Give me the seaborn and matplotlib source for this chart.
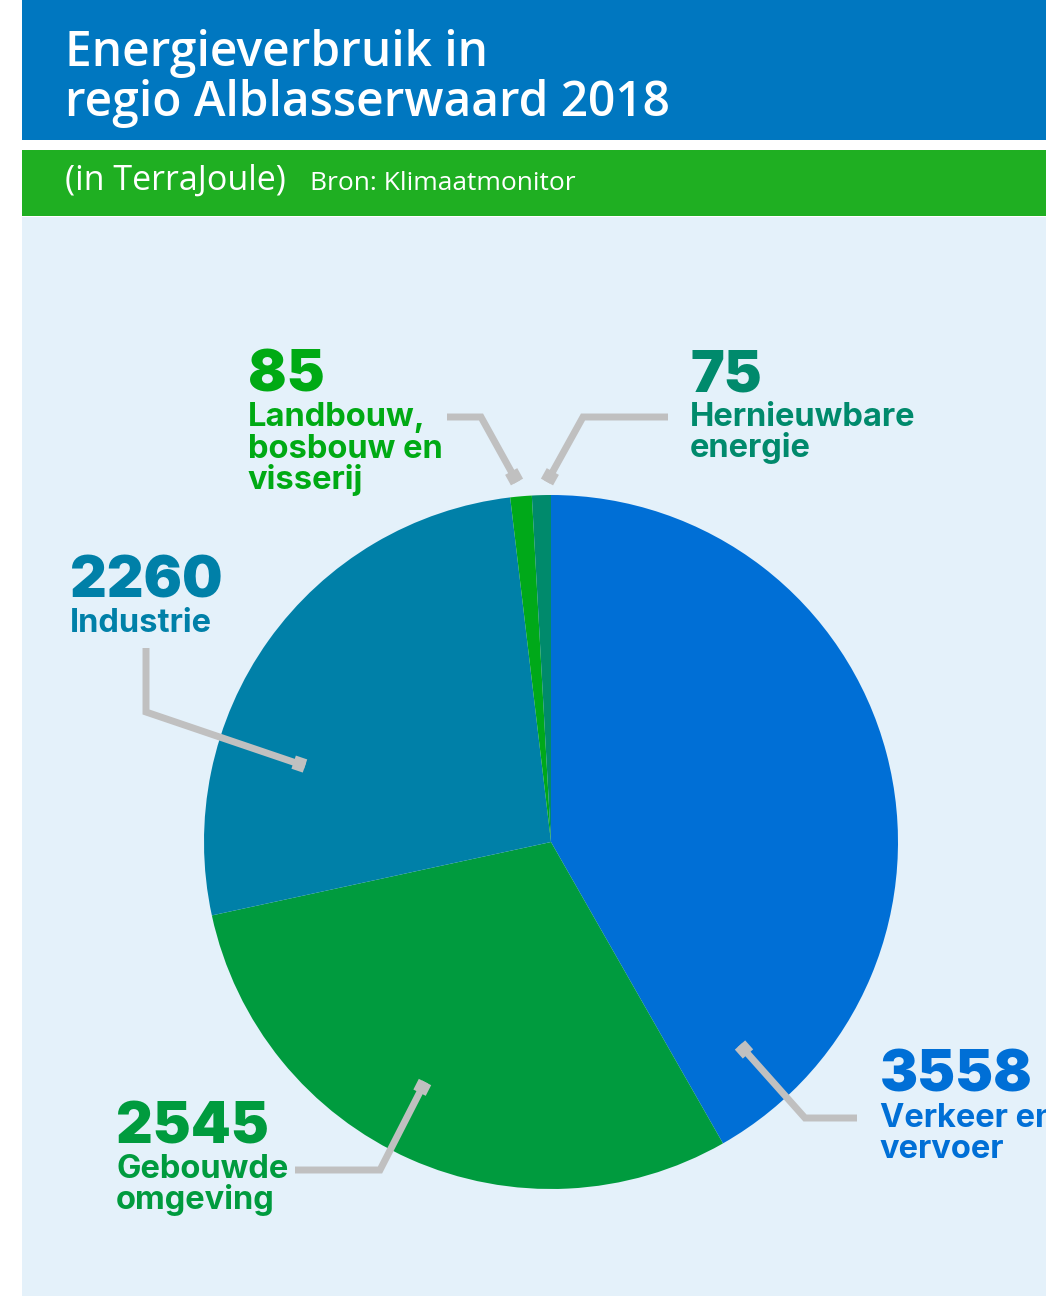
import matplotlib.pyplot as plt
import seaborn as sns

# data
sectors = ['Verkeer en\nvervoer', 'Gebouwde\nomgeving', 'Industrie',
           'Landbouw,\nbosbouw en\nvisserij', 'Hernieuwbare\nenergie']
values = [3558, 2545, 2260, 85, 75]
colors = ['#006FD6', '#009B3E', '#0080A8', '#00A919', '#008A6C']
label_colors = ['#006FD6', '#009B3E', '#0080A8', '#00AA14', '#008A6C']

W, H = 1046, 1296
BG = '#E4F1FA'
GREY = '#C0C0C0'

sns.set_theme(style='white')
plt.rcParams['font.family'] = ['Lato', 'DejaVu Sans']
TITLE_FONT = ['Open Sans', 'DejaVu Sans']
LABEL_FONT = ['Inter', 'DejaVu Sans']


def Y(y):
    return H - y


fig = plt.figure(figsize=(W / 100, H / 100), dpi=100)
fig.patch.set_facecolor('white')
ax = fig.add_axes([0, 0, 1, 1])
ax.set_xlim(0, W)
ax.set_ylim(0, H)
ax.set_aspect('equal')
ax.axis('off')

# panels
ax.add_patch(plt.Rectangle((22, 0), W - 22, Y(217), color=BG, lw=0))
ax.add_patch(plt.Rectangle((22, Y(140)), W - 22, 140, color='#0077C0', lw=0))
ax.add_patch(plt.Rectangle((22, Y(216)), W - 22, 66, color='#1FAF22', lw=0))

ax.text(65, Y(66), 'Energieverbruik in', color='white', fontsize=34.5,
        fontweight='semibold', va='baseline', family=TITLE_FONT)
ax.text(65, Y(116), 'regio Alblasserwaard 2018', color='white', fontsize=34.5,
        fontweight='semibold', va='baseline', family=TITLE_FONT)
ax.text(65, Y(190), '(in TerraJoule)', color='white', fontsize=24.5,
        va='baseline', family=TITLE_FONT)
ax.text(310, Y(190), 'Bron: Klimaatmonitor', color='white', fontsize=19,
        va='baseline', family=TITLE_FONT)

# pie
ax.pie(values, colors=colors, startangle=90, counterclock=False,
       center=(551, Y(842)), radius=347, frame=True,
       wedgeprops={'linewidth': 0})
ax.set_xlim(0, W)
ax.set_ylim(0, H)
ax.axis('off')

# labels: x, baseline of number, first label baseline
label_pos = [(880, 1092, 1127), (116, 1143, 1178), (70, 598, 632),
             (248, 392, 426), (690, 392, 426)]
for name, val, col, (x, yn, yl) in zip(sectors, values, label_colors, label_pos):
    ax.text(x, Y(yn), str(val), color=col, fontsize=41, fontweight='black',
            va='baseline', family=LABEL_FONT)
    for i, line in enumerate(name.split('\n')):
        ax.text(x, Y(yl + 31.5 * i), line, color=col, fontsize=23.5,
                fontweight='bold', va='baseline', family=LABEL_FONT)

# leader lines
leaders = [
    [(857, 1118), (805, 1118), (740, 1045)],
    [(295, 1170), (380, 1170), (425, 1082)],
    [(146, 648), (146, 712), (305, 766)],
    [(447, 417), (481, 417), (517, 482)],
    [(668, 417), (583, 417), (547, 482)],
]
for pts in leaders:
    xs = [p[0] for p in pts]
    ys = [Y(p[1]) for p in pts]
    ax.plot(xs, ys, color=GREY, lw=5, solid_joinstyle='miter',
            solid_capstyle='butt')
    (x0, y0), (x1, y1) = (xs[-2], ys[-2]), (xs[-1], ys[-1])
    d = ((x1 - x0) ** 2 + (y1 - y0) ** 2) ** 0.5
    ux, uy = (x1 - x0) / d, (y1 - y0) / d
    ax.plot([x1 - 12 * ux, x1], [y1 - 12 * uy, y1], color=GREY, lw=10,
            solid_capstyle='butt')

fig.savefig('out.png', dpi=100, facecolor='white')
